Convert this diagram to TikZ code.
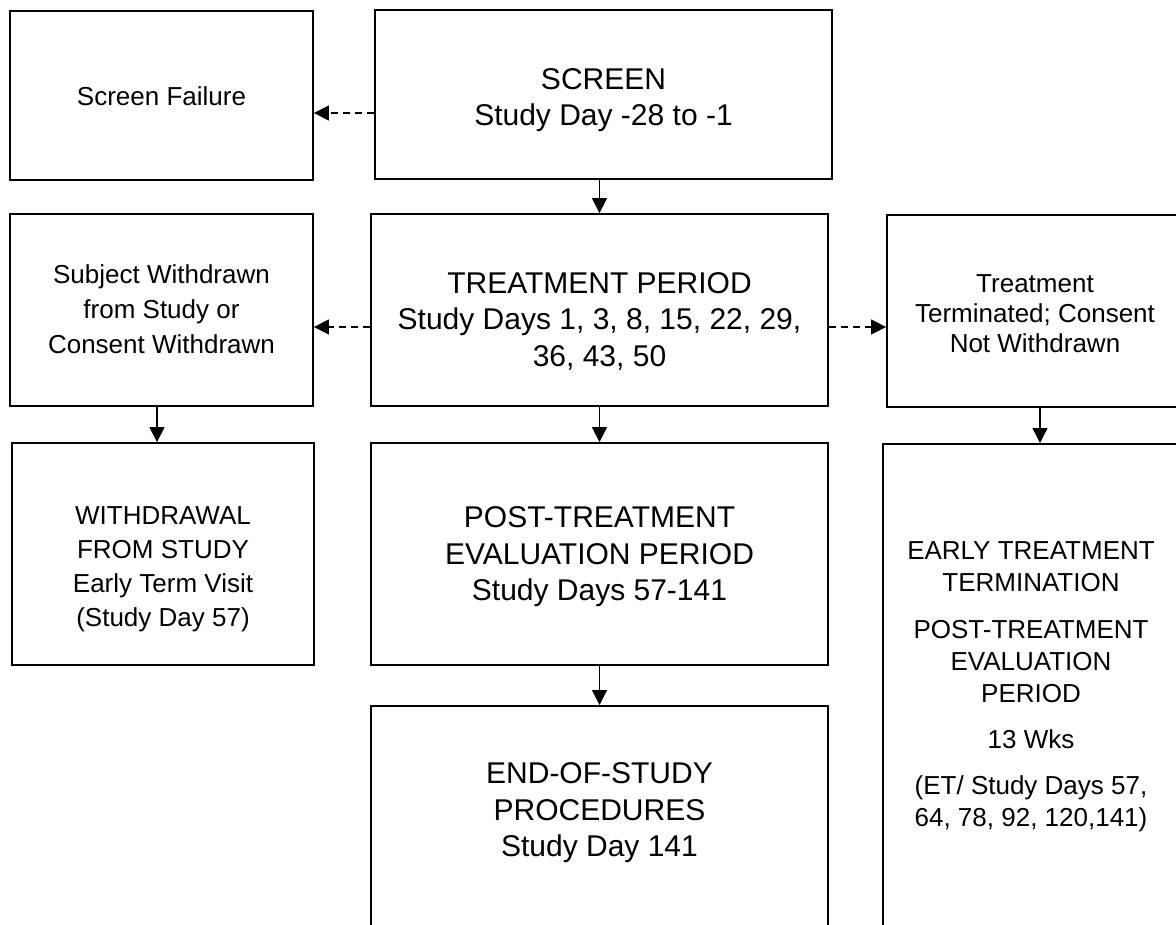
\documentclass[tikz,border=0pt]{standalone}
\usepackage{fontspec}
\setmainfont{Liberation Sans}
\usetikzlibrary{arrows.meta}
\begin{document}
\begin{tikzpicture}[x=1pt,y=-1pt,
  box/.style={draw, line width=1.8pt, rectangle, inner sep=0pt},
  sm/.style={align=center, inner sep=0pt, font=\fontsize{26}{32}\selectfont},
  bg/.style={align=center, inner sep=0pt, font=\fontsize{30}{36.5}\selectfont},
  arr/.style={line width=1.5pt, -{Triangle[length=15pt,width=15pt]}},
  darr/.style={arr, dash pattern=on 7pt off 5pt}]
\useasboundingbox (0,0) rectangle (1176,925);
\clip (0,0) rectangle (1176,925);
% boxes
\node[box,minimum width=303pt,minimum height=169pt] (sf) at (161.5,95.5) {};
\node[box,minimum width=457pt,minimum height=169pt] (sc) at (603.5,94.5) {};
\node[box,minimum width=303pt,minimum height=192pt] (sw) at (161.5,310) {};
\node[box,minimum width=457pt,minimum height=192pt] (tp) at (599.5,310) {};
\node[box,minimum width=300pt,minimum height=192pt] (tt) at (1037,311) {};
\node[box,minimum width=302pt,minimum height=222pt] (wd) at (163,554) {};
\node[box,minimum width=457pt,minimum height=222pt] (pt) at (599.5,554) {};
\node[box,minimum width=300pt,minimum height=490pt,anchor=north] (et) at (1033,443) {};
\node[box,minimum width=457pt,minimum height=260pt,anchor=north] (eos) at (599.5,705) {};
% texts
\node[sm] (sft) at (161.5,96) {Screen Failure};
\node[bg] (sct) at (603.5,100) {SCREEN\\Study Day -28 to -1};
\node[sm,font=\fontsize{26}{35}\selectfont] (swt) at (161.5,309) {Subject Withdrawn\\from Study or\\Consent Withdrawn};
\node[bg] (tpt) at (599.5,321) {TREATMENT PERIOD\\Study Days 1, 3, 8, 15, 22, 29,\\36, 43, 50};
\node[sm,font=\fontsize{26}{30}\selectfont] (ttt) at (1035,314) {Treatment\\Terminated; Consent\\Not Withdrawn};
\node[sm,font=\fontsize{26}{34}\selectfont] (wdt) at (163,569) {WITHDRAWAL\\FROM STUDY\\Early Term Visit\\(Study Day 57)};
\node[bg] (ptt) at (599.5,557) {POST-TREATMENT\\EVALUATION PERIOD\\Study Days 57-141};
\node[sm] (ett) at (1031,687) {EARLY TREATMENT\\TERMINATION\\[15pt]POST-TREATMENT\\EVALUATION\\PERIOD\\[14pt]13 Wks\\[14pt](ET/ Study Days 57,\\64, 78, 92, 120,141)};
\node[bg] (eost) at (599.5,813) {END-OF-STUDY\\PROCEDURES\\Study Day 141};
% connectors
\draw[darr] ([yshift=-18.5pt]sc.west) -- ([yshift=-18.5pt]sc.west -| sf.east);
\draw[darr] ([yshift=-17pt]tp.west) -- ([yshift=-17pt]tp.west -| sw.east);
\draw[darr] ([yshift=-17pt]tp.east) -- ([yshift=-17pt]tp.east -| tt.west);
\draw[arr] (sc.south -| tp.north) -- (tp.north);
\draw[arr] ([xshift=-4.5pt]sw.south) -- ([xshift=-4.5pt]sw.south |- wd.north);
\draw[arr] (tp.south) -- (pt.north);
\draw[arr] ([xshift=3pt]tt.south) -- ([xshift=3pt]tt.south |- et.north);
\draw[arr] (pt.south) -- (eos.north);
\end{tikzpicture}
\end{document}
